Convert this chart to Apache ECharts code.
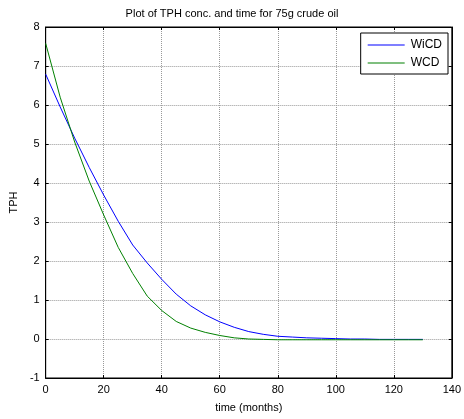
<!DOCTYPE html>
<html><head><meta charset="utf-8">
<script src="https://cdn.jsdelivr.net/npm/echarts@6/dist/echarts.min.js"></script>
<style>html,body{margin:0;padding:0;background:#fff}#c{width:464px;height:419px}</style>
</head><body><div id="c"></div>
<script>
const months = [0,5,10,15,20,25,30,35,40,45,50,55,60,65,70,75,80,85,90,95,100,105,110,115,120,125,130];
const wicd = [6.79,5.95,5.15,4.4,3.69,3.02,2.41,1.95,1.53,1.15,0.85,0.62,0.44,0.3,0.19,0.12,0.07,0.05,0.03,0.02,0.01,0.0,0.0,-0.01,-0.01,-0.01,-0.01];
const wcd = [7.58,6.2,5.05,4.05,3.18,2.35,1.68,1.1,0.73,0.45,0.28,0.17,0.09,0.03,0.0,-0.01,-0.02,-0.02,-0.02,-0.02,-0.02,-0.02,-0.02,-0.02,-0.02,-0.02,-0.02];
const xTicks = [0,20,40,60,80,100,120,140];
const yTicks = [-1,0,1,2,3,4,5,6,7,8];
const titleText = 'Plot of TPH conc. and time for 75g crude oil';

const font = 'Liberation Sans, Arial, sans-serif';
const chart = echarts.init(document.getElementById('c'));
const gridStyle = {show:true, lineStyle:{color:'#999', type:[1,1], width:1}};
const baseX = {type:'value', min:xTicks[0], max:xTicks[xTicks.length-1], interval:20};
const baseY = {type:'value', min:yTicks[0], max:yTicks[yTicks.length-1], interval:1};
chart.setOption({
  animation:false,
  backgroundColor:'#fff',
  title:{text:titleText, left:'center', top:3, textStyle:{fontFamily:font, fontSize:11, fontWeight:'normal', color:'#000'}},
  grid:{left:42, right:10, top:27, bottom:41, show:true, borderColor:'#000', borderWidth:1},
  legend:{
    data:['WiCD','WCD'], orient:'vertical', right:16, top:33,
    backgroundColor:'#fff', borderColor:'#000', borderWidth:1, padding:[6,6,5,7],
    icon:'rect', itemWidth:37, itemHeight:1, itemGap:6,
    textStyle:{fontFamily:font, fontSize:12, color:'#000', padding:[0,0,0,1]}
  },
  xAxis:[
    Object.assign({}, baseX, {
      name:'time (months)', nameLocation:'middle', nameGap:24,
      nameTextStyle:{fontFamily:font, fontSize:11, color:'#000'},
      axisLine:{show:true, onZero:false, lineStyle:{color:'#000'}},
      axisTick:{show:true, inside:true, length:3, lineStyle:{color:'#000'}},
      axisLabel:{fontFamily:font, fontSize:11, color:'#000', margin:6},
      splitLine:gridStyle
    }),
    Object.assign({}, baseX, {
      position:'top',
      axisLine:{show:true, onZero:false, lineStyle:{color:'#000'}},
      axisTick:{show:true, inside:true, length:3, lineStyle:{color:'#000'}},
      axisLabel:{show:false}, splitLine:{show:false}
    })
  ],
  yAxis:[
    Object.assign({}, baseY, {
      name:'TPH', nameLocation:'middle', nameGap:26,
      nameTextStyle:{fontFamily:font, fontSize:11, color:'#000'},
      axisLine:{show:true, onZero:false, lineStyle:{color:'#000'}},
      axisTick:{show:true, inside:true, length:3, lineStyle:{color:'#000'}},
      axisLabel:{fontFamily:font, fontSize:11, color:'#000', margin:6},
      splitLine:gridStyle
    }),
    Object.assign({}, baseY, {
      position:'right',
      axisLine:{show:true, onZero:false, lineStyle:{color:'#000'}},
      axisTick:{show:true, inside:true, length:3, lineStyle:{color:'#000'}},
      axisLabel:{show:false}, splitLine:{show:false}
    })
  ],
  series:[
    {name:'WiCD', type:'line', symbol:'none', data:months.map((m,i)=>[m,wicd[i]]), lineStyle:{color:'#0000ff', width:1}, itemStyle:{color:'#0000ff'}},
    {name:'WCD', type:'line', symbol:'none', data:months.map((m,i)=>[m,wcd[i]]), lineStyle:{color:'#008000', width:1}, itemStyle:{color:'#008000'}}
  ]
});
</script></body></html>
